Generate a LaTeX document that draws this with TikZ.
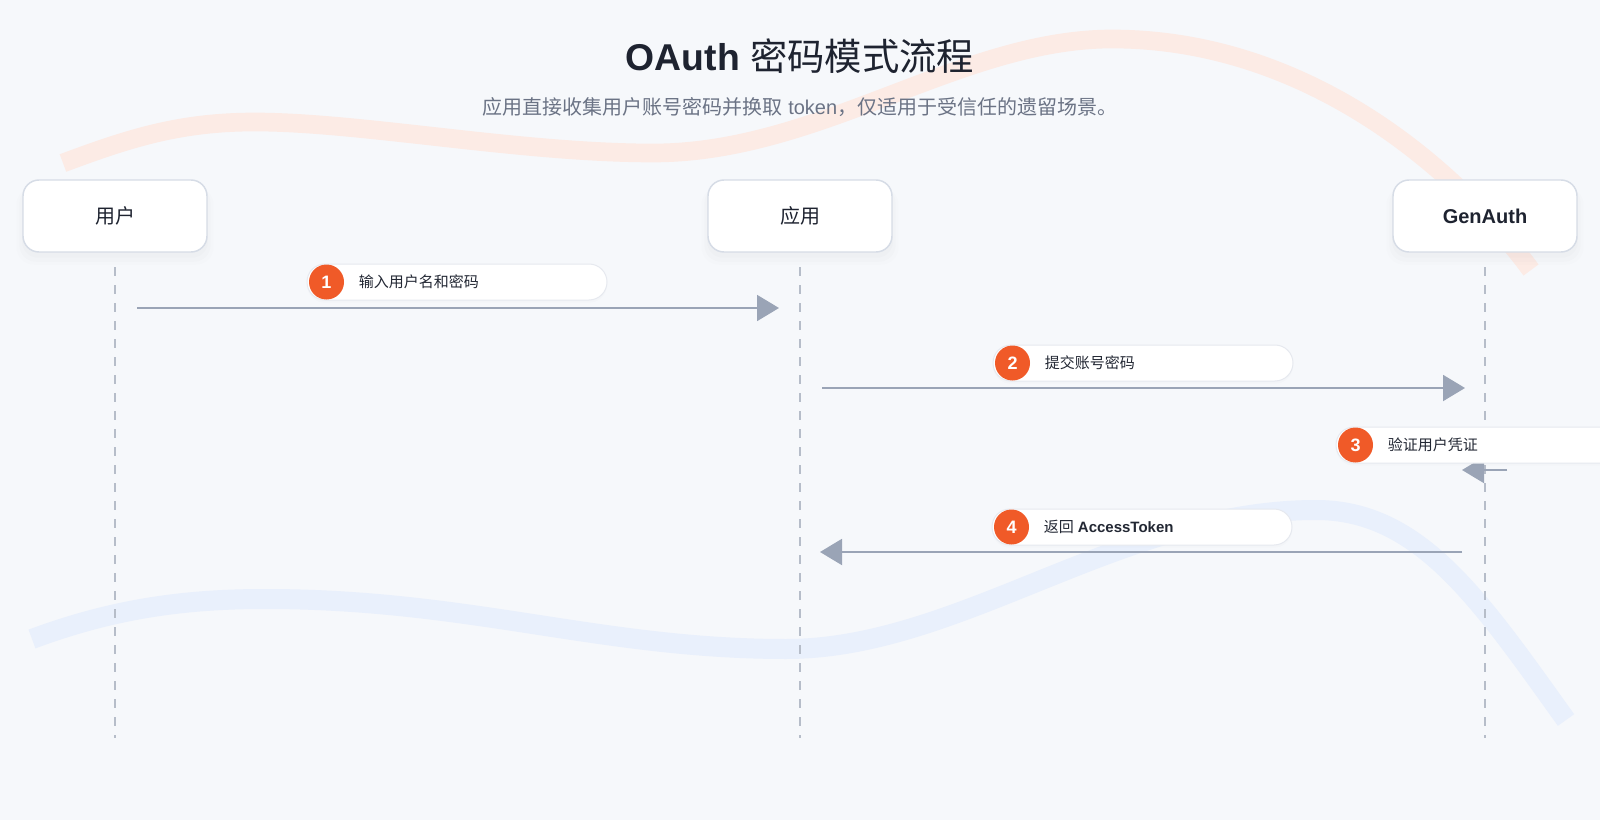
\documentclass[tikz,border=0pt]{standalone}
\usepackage{fontspec}
\setmainfont{Liberation Sans}
\newfontfamily\cjk{Noto Sans CJK SC}
\usetikzlibrary{arrows.meta,shadows}
\definecolor{bgc}{HTML}{F6F8FB}
\definecolor{titlec}{HTML}{1E2330}
\definecolor{subc}{HTML}{6B7385}
\definecolor{textc}{HTML}{222733}
\definecolor{accent}{HTML}{F05A28}
\definecolor{boxborder}{HTML}{D6DCE6}
\definecolor{pillborder}{HTML}{E6E9EF}
\definecolor{arrowc}{HTML}{9AA4B6}
\definecolor{lifec}{HTML}{B6BDC9}
\definecolor{orangecurve}{HTML}{FCEBE5}
\definecolor{bluecurve}{HTML}{E9F0FC}
\begin{document}
\begin{tikzpicture}[x=0.75pt,y=-0.75pt,
  actor/.style={draw=boxborder, line width=1.1pt, fill=white, rounded corners=12pt,
    minimum width=138pt, minimum height=54pt, inner sep=0pt,
    font=\fontsize{15}{18}\selectfont, text=titlec,
    drop shadow={shadow xshift=0pt, shadow yshift=-7pt, opacity=0.015, shadow scale=1.07},
    drop shadow={shadow xshift=0pt, shadow yshift=-6pt, opacity=0.02, shadow scale=1.04},
    drop shadow={shadow xshift=0pt, shadow yshift=-4pt, opacity=0.025, shadow scale=1.01}},
  pill/.style={draw=pillborder, line width=0.75pt, fill=white, rounded corners=13.5pt,
    minimum width=225pt, minimum height=27pt, inner sep=0pt,
    drop shadow={shadow xshift=0pt, shadow yshift=-2pt, opacity=0.025, shadow scale=1.0}},
  badge/.style={circle, fill=accent, minimum size=26.25pt, inner sep=0pt, text=white,
    font=\bfseries\fontsize{13.5}{16}\selectfont},
  msg/.style={anchor=west, inner sep=0pt, text=textc, font=\fontsize{11.25}{14}\selectfont},
  msgline/.style={draw=arrowc, line width=1.5pt, -{Triangle[length=16.5pt,width=19.5pt]}},
  lifeline/.style={draw=lifec, line width=1.1pt, dash pattern=on 6.5pt off 7pt},
  deco/.style={line width=14pt, line cap=butt}
]
\clip (0,0) rectangle (1600,820);
\fill[bgc] (0,0) rectangle (1600,820);
\useasboundingbox (0,0) rectangle (1600,820);

% decorative curves
\draw[deco, orangecurve] (63,163) .. controls (130,138) and (180,122) .. (255,122)
  .. controls (360,122) and (520,153) .. (653,153)
  .. controls (820,153) and (960,39) .. (1112,39)
  .. controls (1300,39) and (1450,160) .. (1531,270);
\draw[deco, bluecurve, line width=15pt] (32,639) .. controls (110,610) and (180,599) .. (265,599)
  .. controls (470,599) and (600,649) .. (786,649)
  .. controls (960,649) and (1120,510) .. (1316,510)
  .. controls (1420,510) and (1480,600) .. (1566,720);

% title
\node[font=\fontsize{28}{32}\selectfont, text=titlec] (title) at (800,56) {\textbf{OAuth} {\cjk 密码模式流程}};
\node[font=\fontsize{15}{18}\selectfont, text=subc] (subtitle) at (800,107)
  {{\cjk 应用直接收集用户账号密码并换取} token{\cjk ，仅适用于受信任的遗留场景。}};

% lifelines
\coordinate (uTop) at (115,267); \coordinate (uBot) at (115,738);
\coordinate (aTop) at (800,267); \coordinate (aBot) at (800,738);
\coordinate (gTop) at (1485,267); \coordinate (gBot) at (1485,738);
\draw[lifeline] (uTop) -- (uBot);
\draw[lifeline] (aTop) -- (aBot);
\draw[lifeline] (gTop) -- (gBot);

% actors
\node[actor] (user) at (115,216) {\cjk 用户};
\node[actor] (app) at (800,216) {\cjk 应用};
\node[actor] (genauth) at (1485,216) {\bfseries GenAuth};

% message endpoints
\coordinate (m1s) at (137,308);  \coordinate (m1e) at (779,308);
\coordinate (m2s) at (822,388);  \coordinate (m2e) at (1465,388);
\coordinate (m3s) at (1507,470); \coordinate (m3e) at (1462,470);
\coordinate (m4s) at (1462,552); \coordinate (m4e) at (820,552);

\draw[msgline] (m1s) -- (m1e);
\draw[msgline] (m2s) -- (m2e);
\draw[msgline] (m3s) -- (m3e);
\draw[msgline] (m4s) -- (m4e);

% labels
\node[pill] (p1) at (457,282) {};
\node[badge] (b1) at ([xshift=15pt]p1.west) {1};
\node[msg] (t1) at ([xshift=39pt]p1.west) {\cjk 输入用户名和密码};

\node[pill] (p2) at (1143,363) {};
\node[badge] (b2) at ([xshift=15pt]p2.west) {2};
\node[msg] (t2) at ([xshift=39pt]p2.west) {\cjk 提交账号密码};

\node[pill] (p3) at (1486,445) {};
\node[badge] (b3) at ([xshift=15pt]p3.west) {3};
\node[msg] (t3) at ([xshift=39pt]p3.west) {\cjk 验证用户凭证};

\node[pill] (p4) at (1142,527) {};
\node[badge] (b4) at ([xshift=15pt]p4.west) {4};
\node[msg] (t4) at ([xshift=39pt]p4.west) {{\cjk 返回} \textbf{AccessToken}};
\end{tikzpicture}
\end{document}
